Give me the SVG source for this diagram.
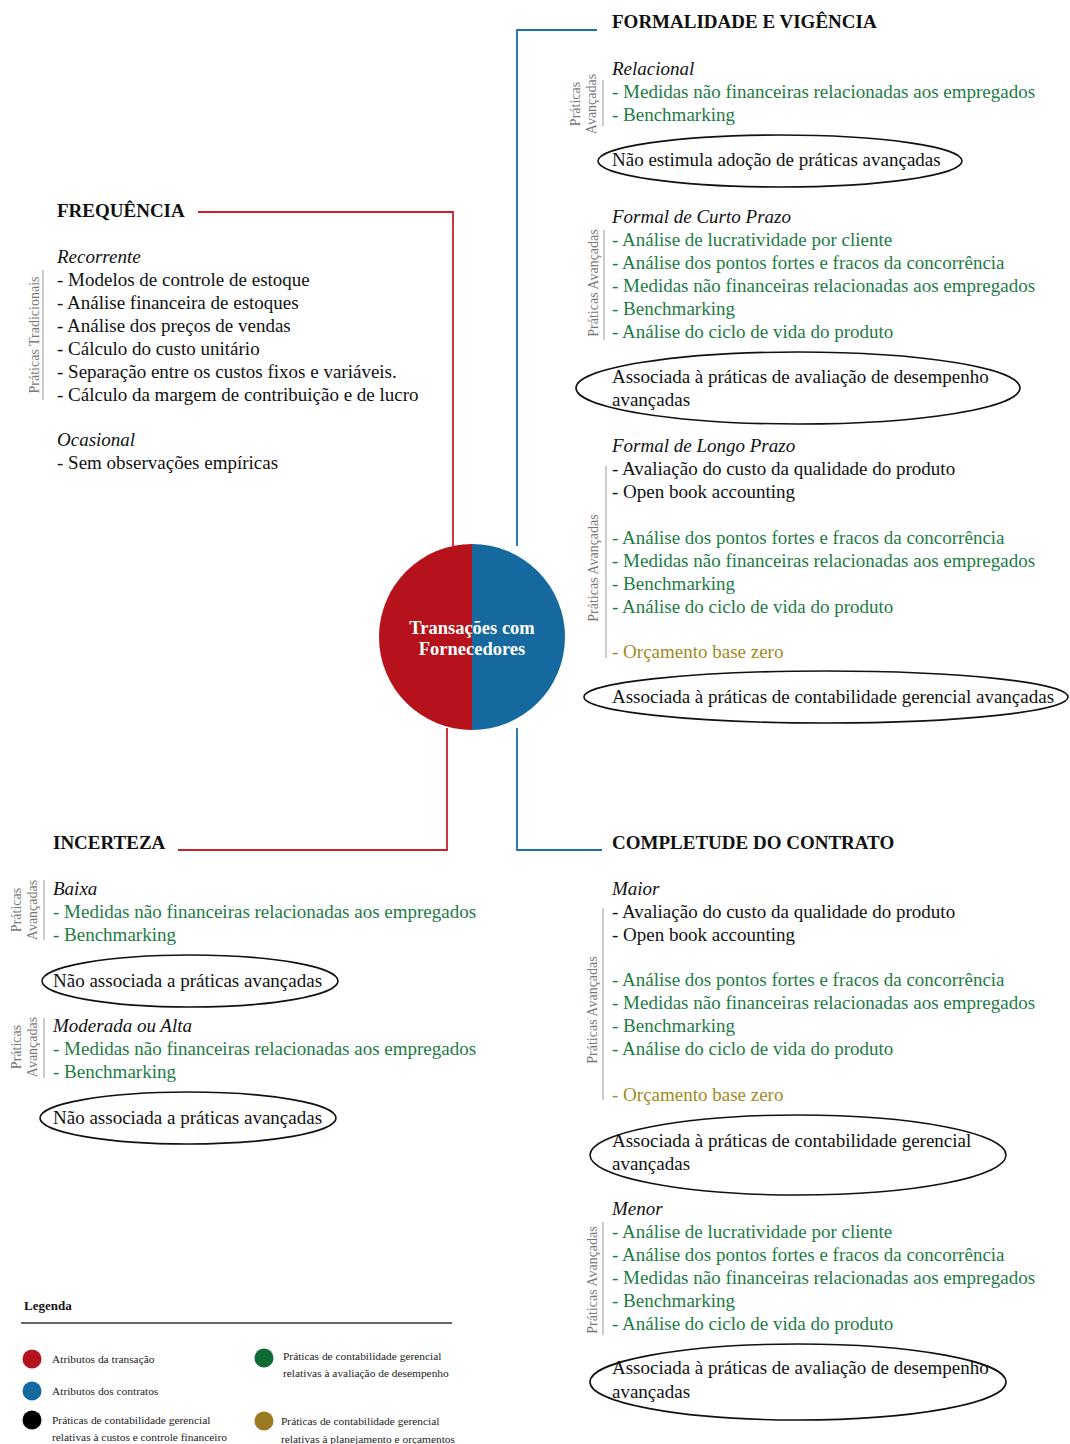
<svg xmlns="http://www.w3.org/2000/svg" width="1070" height="1444" viewBox="0 0 1070 1444">
<style>
text{font-family:"Liberation Serif","Times New Roman",serif;}
.t{font-size:19px;fill:#111;}
.g{font-size:19px;fill:#1E7B45;}
.y{font-size:19px;fill:#A08A22;}
.i{font-size:19px;fill:#111;font-style:italic;}
.h{font-size:19px;font-weight:bold;fill:#111;}
.v{font-size:14px;fill:#777;}
.vl{stroke:#999;stroke-width:1;}
.el{fill:none;stroke:#111;stroke-width:1.6;}
.lg{font-size:11.4px;fill:#222;}
</style>
<rect width="1070" height="1444" fill="#fff"/>
<g id="connectors" fill="none" stroke-width="1.8">
<polyline points="198,212 453,212 453,546" stroke="#C8202B"/>
<polyline points="447,728 447,850 178,850" stroke="#C8202B"/>
<polyline points="597,30 517,30 517,546" stroke="#1A6FAE"/>
<polyline points="517,728 517,850 602,850" stroke="#1A6FAE"/>
</g>
<g id="center">
<path d="M472,544 A93,93 0 0 0 472,730 Z" fill="#B5121B"/>
<path d="M472,544 A93,93 0 0 1 472,730 Z" fill="#15699F"/>
<text x="472" y="634" text-anchor="middle" font-size="18.5" font-weight="bold" fill="#fff">Transações com</text>
<text x="472" y="655" text-anchor="middle" font-size="18.5" font-weight="bold" fill="#fff">Fornecedores</text>
</g>
<g id="frequencia">
<text class="h" x="57" y="217">FREQUÊNCIA</text>
<text class="i" x="57" y="263">Recorrente</text>
<text class="t" x="57" y="286">- Modelos de controle de estoque</text>
<text class="t" x="57" y="309">- Análise financeira de estoques</text>
<text class="t" x="57" y="332">- Análise dos preços de vendas</text>
<text class="t" x="57" y="355">- Cálculo do custo unitário</text>
<text class="t" x="57" y="378">- Separação entre os custos fixos e variáveis.</text>
<text class="t" x="57" y="401">- Cálculo da margem de contribuição e de lucro</text>
<text class="v" transform="translate(39,335) rotate(-90)" text-anchor="middle">Práticas Tradicionais</text>
<line class="vl" x1="43" y1="270" x2="43" y2="400"/>
<text class="i" x="57" y="446">Ocasional</text>
<text class="t" x="57" y="469">- Sem observações empíricas</text>
</g>
<g id="incerteza">
<text class="h" x="53" y="849">INCERTEZA</text>
<text class="i" x="53" y="895">Baixa</text>
<text class="g" x="53" y="918">- Medidas não financeiras relacionadas aos empregados</text>
<text class="g" x="53" y="941">- Benchmarking</text>
<text class="v" transform="translate(21,910) rotate(-90)" text-anchor="middle">Práticas</text>
<text class="v" transform="translate(37,910) rotate(-90)" text-anchor="middle">Avançadas</text>
<line class="vl" x1="44" y1="880" x2="44" y2="940"/>
<ellipse class="el" cx="190" cy="981" rx="148" ry="26"/>
<text class="t" x="53" y="987">Não associada a práticas avançadas</text>
<text class="i" x="53" y="1032">Moderada ou Alta</text>
<text class="g" x="53" y="1055">- Medidas não financeiras relacionadas aos empregados</text>
<text class="g" x="53" y="1078">- Benchmarking</text>
<text class="v" transform="translate(21,1047) rotate(-90)" text-anchor="middle">Práticas</text>
<text class="v" transform="translate(37,1047) rotate(-90)" text-anchor="middle">Avançadas</text>
<line class="vl" x1="44" y1="1018" x2="44" y2="1078"/>
<ellipse class="el" cx="188" cy="1118" rx="148" ry="26"/>
<text class="t" x="53" y="1124">Não associada a práticas avançadas</text>
</g>
<g id="formalidade">
<text class="h" x="612" y="28">FORMALIDADE E VIGÊNCIA</text>
<text class="i" x="612" y="75">Relacional</text>
<text class="g" x="612" y="98">- Medidas não financeiras relacionadas aos empregados</text>
<text class="g" x="612" y="121">- Benchmarking</text>
<text class="v" transform="translate(580,104) rotate(-90)" text-anchor="middle">Práticas</text>
<text class="v" transform="translate(596,104) rotate(-90)" text-anchor="middle">Avançadas</text>
<line class="vl" x1="603" y1="80" x2="603" y2="126"/>
<ellipse class="el" cx="780" cy="161" rx="182" ry="26"/>
<text class="t" x="612" y="166">Não estimula adoção de práticas avançadas</text>
<text class="i" x="612" y="223">Formal de Curto Prazo</text>
<text class="g" x="612" y="246">- Análise de lucratividade por cliente</text>
<text class="g" x="612" y="269">- Análise dos pontos fortes e fracos da concorrência</text>
<text class="g" x="612" y="292">- Medidas não financeiras relacionadas aos empregados</text>
<text class="g" x="612" y="315">- Benchmarking</text>
<text class="g" x="612" y="338">- Análise do ciclo de vida do produto</text>
<text class="v" transform="translate(598,283) rotate(-90)" text-anchor="middle">Práticas Avançadas</text>
<line class="vl" x1="604" y1="230" x2="604" y2="340"/>
<ellipse class="el" cx="798" cy="388" rx="222" ry="36"/>
<text class="t" x="612" y="383">Associada à práticas de avaliação de desempenho</text>
<text class="t" x="612" y="406">avançadas</text>
<text class="i" x="612" y="452">Formal de Longo Prazo</text>
<text class="t" x="612" y="475">- Avaliação do custo da qualidade do produto</text>
<text class="t" x="612" y="498">- Open book accounting</text>
<text class="g" x="612" y="544">- Análise dos pontos fortes e fracos da concorrência</text>
<text class="g" x="612" y="567">- Medidas não financeiras relacionadas aos empregados</text>
<text class="g" x="612" y="590">- Benchmarking</text>
<text class="g" x="612" y="613">- Análise do ciclo de vida do produto</text>
<text class="y" x="612" y="658">- Orçamento base zero</text>
<text class="v" transform="translate(598,568) rotate(-90)" text-anchor="middle">Práticas Avançadas</text>
<line class="vl" x1="606" y1="466" x2="606" y2="658"/>
<ellipse class="el" cx="826" cy="697" rx="242" ry="26"/>
<text class="t" x="612" y="703">Associada à práticas de contabilidade gerencial avançadas</text>
</g>
<g id="completude">
<text class="h" x="612" y="849">COMPLETUDE DO CONTRATO</text>
<text class="i" x="612" y="895">Maior</text>
<text class="t" x="612" y="918">- Avaliação do custo da qualidade do produto</text>
<text class="t" x="612" y="941">- Open book accounting</text>
<text class="g" x="612" y="986">- Análise dos pontos fortes e fracos da concorrência</text>
<text class="g" x="612" y="1009">- Medidas não financeiras relacionadas aos empregados</text>
<text class="g" x="612" y="1032">- Benchmarking</text>
<text class="g" x="612" y="1055">- Análise do ciclo de vida do produto</text>
<text class="y" x="612" y="1101">- Orçamento base zero</text>
<text class="v" transform="translate(597,1010) rotate(-90)" text-anchor="middle">Práticas Avançadas</text>
<line class="vl" x1="603" y1="908" x2="603" y2="1100"/>
<ellipse class="el" cx="798" cy="1155" rx="208" ry="40"/>
<text class="t" x="612" y="1147">Associada à práticas de contabilidade gerencial</text>
<text class="t" x="612" y="1170">avançadas</text>
<text class="i" x="612" y="1215">Menor</text>
<text class="g" x="612" y="1238">- Análise de lucratividade por cliente</text>
<text class="g" x="612" y="1261">- Análise dos pontos fortes e fracos da concorrência</text>
<text class="g" x="612" y="1284">- Medidas não financeiras relacionadas aos empregados</text>
<text class="g" x="612" y="1307">- Benchmarking</text>
<text class="g" x="612" y="1330">- Análise do ciclo de vida do produto</text>
<text class="v" transform="translate(597,1280) rotate(-90)" text-anchor="middle">Práticas Avançadas</text>
<line class="vl" x1="603" y1="1222" x2="603" y2="1335"/>
<ellipse class="el" cx="798" cy="1382" rx="208" ry="38"/>
<text class="t" x="612" y="1374">Associada à práticas de avaliação de desempenho</text>
<text class="t" x="612" y="1398">avançadas</text>
</g>
<g id="legenda">
<text x="24" y="1310" font-size="13" font-weight="bold" fill="#111">Legenda</text>
<line x1="21" y1="1323" x2="452" y2="1323" stroke="#333" stroke-width="1.5"/>
<circle cx="32" cy="1359" r="9.5" fill="#B5121B"/>
<text class="lg" x="52" y="1363">Atributos da transação</text>
<circle cx="32" cy="1391" r="9.5" fill="#15699F"/>
<text class="lg" x="52" y="1395">Atributos dos contratos</text>
<circle cx="32" cy="1420" r="9.5" fill="#000"/>
<text class="lg" x="52" y="1424">Práticas de contabilidade gerencial</text>
<text class="lg" x="52" y="1441">relativas à custos e controle financeiro</text>
<circle cx="264" cy="1358" r="9.5" fill="#0E6B36"/>
<text class="lg" x="283" y="1360">Práticas de contabilidade gerencial</text>
<text class="lg" x="283" y="1377">relativas à avaliação de desempenho</text>
<circle cx="264" cy="1421" r="9.5" fill="#9A7B22"/>
<text class="lg" x="281" y="1425">Práticas de contabilidade gerencial</text>
<text class="lg" x="281" y="1443">relativas à planejamento e orçamentos</text>
</g>
</svg>
